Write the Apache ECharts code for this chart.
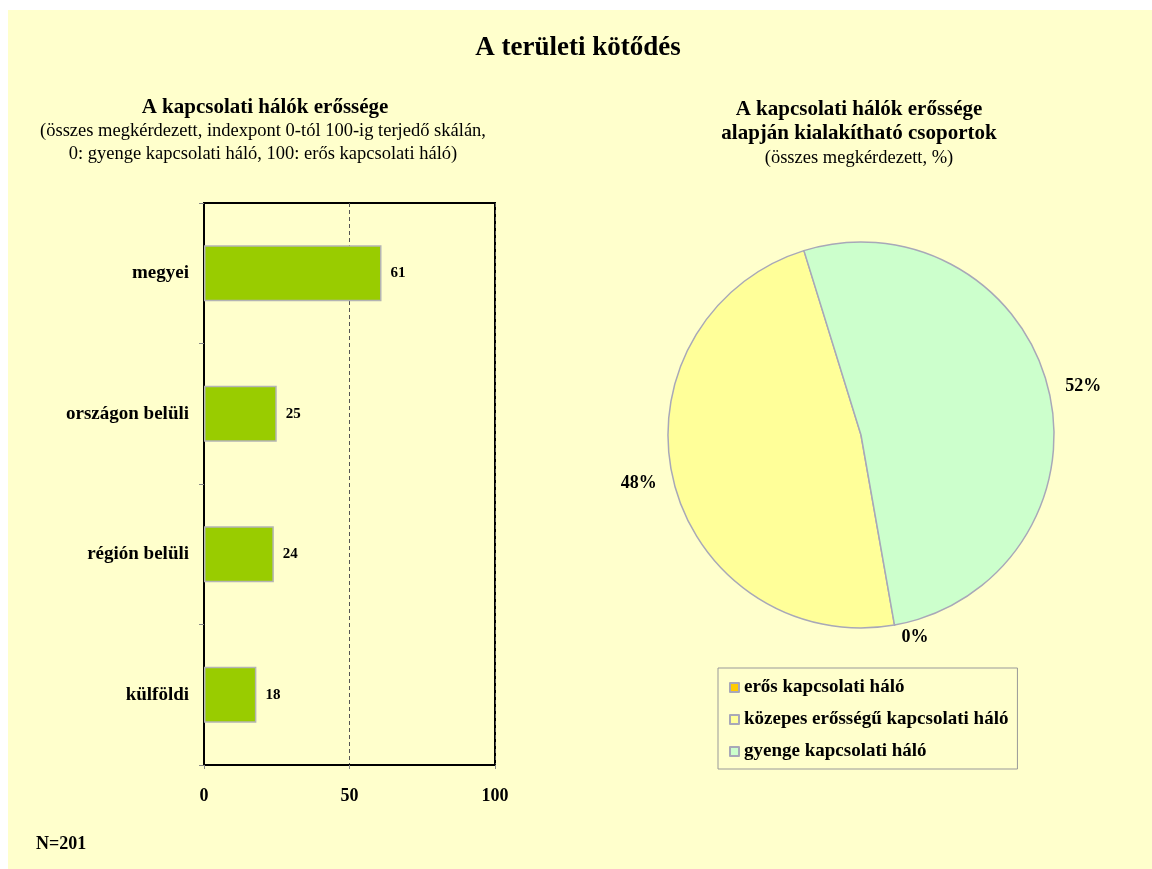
<!DOCTYPE html>
<html>
<head>
<meta charset="utf-8">
<script src="https://cdn.jsdelivr.net/npm/echarts@6/dist/echarts.min.js"></script>
<style>
html,body{margin:0;padding:0;background:#fff;}
#chart{width:1152px;height:869px;}
</style>
</head>
<body>
<div id="chart"></div>
<script>
// ---- data ----
var mainTitle = 'A területi kötődés';
var barTitle = ['A kapcsolati hálók erőssége',
  '(összes megkérdezett, indexpont 0-tól 100-ig terjedő skálán,',
  '0: gyenge kapcsolati háló, 100: erős kapcsolati háló)'];
var pieTitle = ['A kapcsolati hálók erőssége', 'alapján kialakítható csoportok', '(összes megkérdezett, %)'];
var barCategories = ['megyei', 'országon belüli', 'régión belüli', 'külföldi'];
var barValues = [61, 25, 24, 18];
var axisTicks = [0, 50, 100];
var pieNames = ['erős kapcsolati háló', 'közepes erősségű kapcsolati háló', 'gyenge kapcsolati háló'];
var pieValues = [0, 48, 52];
var pieColors = ['#FFCC00', '#FFFF99', '#CCFFCC'];
var footnote = 'N=201';

var FONT = '"Liberation Serif","Times New Roman",serif';

var chart = echarts.init(document.getElementById('chart'), null, {renderer: 'canvas'});

function txt(text, x, y, size, bold, align) {
  return {
    type: 'text', x: x, y: y, silent: true, z: 10,
    style: {
      text: text, fill: '#000',
      font: (bold ? 'bold ' : '') + size + 'px ' + FONT,
      textAlign: align || 'center', textVerticalAlign: 'middle'
    }
  };
}

var option = {
  backgroundColor: '#FFFFFF',
  animation: false,
  graphic: {
    elements: [
      {type: 'rect', x: 8, y: 10, z: -100, silent: true,
       shape: {width: 1144, height: 859}, style: {fill: '#FFFFCC'}},
      txt(mainTitle, 578, 48, 27, true),
      txt(barTitle[0], 265, 108, 21, true),
      txt(barTitle[1], 263, 131, 18.5, false),
      txt(barTitle[2], 263, 154, 18.5, false),
      txt(pieTitle[0], 859, 110, 21, true),
      txt(pieTitle[1], 859, 134, 21, true),
      txt(pieTitle[2], 859, 158, 18.5, false),
      txt(footnote, 36, 844, 18, true, 'left')
    ]
  },
  grid: {
    left: 204, right: 657, top: 203, bottom: 104,
    show: true, borderColor: '#000', borderWidth: 2, backgroundColor: 'transparent'
  },
  xAxis: {
    type: 'value', min: axisTicks[0], max: axisTicks[axisTicks.length - 1], interval: 50,
    axisLine: {show: true, lineStyle: {color: '#000', width: 2}},
    axisTick: {show: true, length: 4, lineStyle: {color: '#888'}},
    axisLabel: {margin: 22, color: '#000', fontFamily: FONT, fontWeight: 'bold', fontSize: 18},
    splitLine: {show: true, lineStyle: {color: '#555', type: [4, 3], width: 1}}
  },
  yAxis: {
    type: 'category', data: barCategories, inverse: true,
    axisLine: {show: true, lineStyle: {color: '#000', width: 2}},
    axisTick: {show: true, length: 5, inside: false, lineStyle: {color: '#888'}},
    axisLabel: {margin: 15, color: '#000', fontFamily: FONT, fontWeight: 'bold', fontSize: 19},
    splitLine: {show: false}
  },
  legend: {
    data: pieNames,
    orient: 'vertical', left: 718, top: 668,
    padding: [10, 9, 8, 11],
    itemWidth: 9, itemHeight: 9, itemGap: 13,
    icon: 'rect',
    borderColor: '#999', borderWidth: 1,
    textStyle: {color: '#000', fontFamily: FONT, fontWeight: 'bold', fontSize: 19},
    selectedMode: false
  },
  series: [
    {
      type: 'bar', data: barValues, barCategoryGap: '60%',
      itemStyle: {color: '#99CC00', borderColor: '#B4B4B4', borderWidth: 1.5},
      label: {show: true, position: 'right', distance: 9, color: '#000',
              fontFamily: FONT, fontWeight: 'bold', fontSize: 15}
    },
    {
      type: 'pie', center: [861, 435], radius: 193,
      startAngle: -80, clockwise: true, avoidLabelOverlap: false,
      data: pieNames.map(function (n, i) {
        return {name: n, value: pieValues[i], itemStyle: {color: pieColors[i]}};
      }),
      itemStyle: {borderColor: '#A8A8B8', borderWidth: 1.5},
      label: {show: true, position: 'outside', formatter: '{c}%', color: '#000',
              fontFamily: FONT, fontWeight: 'bold', fontSize: 18},
      labelLine: {show: false, length: 12, length2: 0},
      emphasis: {disabled: true}
    }
  ]
};
chart.setOption(option);
</script>
</body>
</html>
